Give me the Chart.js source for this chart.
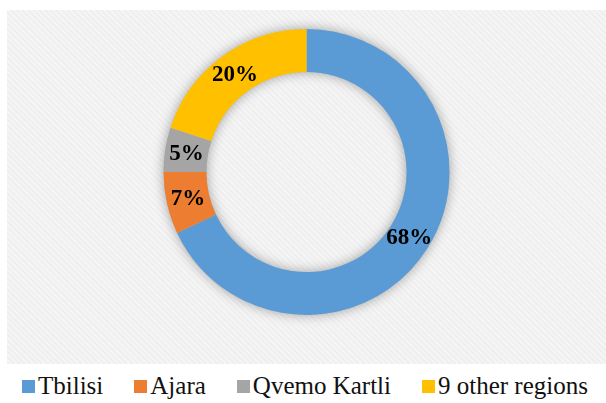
<!DOCTYPE html>
<html>
<head>
<meta charset="utf-8">
<script src="https://cdn.jsdelivr.net/npm/chart.js@4"></script>
<style>
  body { margin: 0; background: #fff; width: 606px; height: 403px; overflow: hidden; position: relative; }
  #panel {
    position: absolute; left: 7px; top: 10px; width: 599px; height: 354px;
    background: repeating-linear-gradient(45deg, #efefef 0px, #efefef 2px, #f5f5f5 2px, #f5f5f5 4px);
  }
  #legend {
    position: absolute; left: 22px; top: 366px; height: 39px; right: 0;
    display: flex; align-items: center; gap: 31px;
    font-family: "Liberation Serif", serif; font-size: 25px; color: #111;
  }
  #legend .item { display: flex; align-items: center; white-space: nowrap; }
  #legend .box { width: 13px; height: 13px; margin-right: 3px; margin-top: 2px; }
</style>
</head>
<body>
<div id="panel"><canvas id="c" width="599" height="354"></canvas></div>
<div id="legend"></div>
<script>
const regions = ["Tbilisi", "Ajara", "Qvemo Kartli", "9 other regions"]
const shares = [68, 7, 5, 20]
const colors = ["#5B9BD5", "#ED7D31", "#A5A5A5", "#FFC000"]

// soft shadow under the ring
const ringShadow = {
  id: 'ringShadow',
  beforeDatasetsDraw(chart) {
    const arc = chart.getDatasetMeta(0).data[0]
    if (!arc) return
    const { x, y, outerRadius, innerRadius } = arc.getProps(['x', 'y', 'outerRadius', 'innerRadius'], true)
    const ctx = chart.ctx
    ctx.save()
    ctx.shadowColor = 'rgba(0,0,0,0.35)'
    ctx.shadowBlur = 12
    ctx.fillStyle = '#bbb'
    ctx.beginPath()
    ctx.arc(x, y, outerRadius, 0, Math.PI * 2)
    ctx.arc(x, y, innerRadius, 0, Math.PI * 2, true)
    ctx.fill()
    ctx.restore()
  }
}

// percent labels in the middle of each slice
const sliceLabels = {
  id: 'sliceLabels',
  afterDatasetsDraw(chart) {
    const ctx = chart.ctx
    ctx.save()
    ctx.font = 'bold 23px "Liberation Serif", serif'
    ctx.fillStyle = '#000'
    ctx.textAlign = 'center'
    ctx.textBaseline = 'middle'
    chart.getDatasetMeta(0).data.forEach((el, i) => {
      const p = el.tooltipPosition()
      ctx.fillText(shares[i] + '%', p.x, p.y + 1)
    })
    ctx.restore()
  }
}

const chart = new Chart(document.getElementById('c'), {
  type: 'doughnut',
  data: {
    labels: regions,
    datasets: [{
      data: shares,
      backgroundColor: colors,
      borderWidth: 0
    }]
  },
  options: {
    responsive: false,
    animation: false,
    cutout: '70%',
    layout: { padding: { top: 19, bottom: 49, left: 0, right: 0 } },
    plugins: {
      legend: { display: false },
      tooltip: { enabled: false }
    }
  },
  plugins: [ringShadow, sliceLabels]
})

// html legend built from the chart's own legend items
const legendEl = document.getElementById('legend')
chart.options.plugins.legend.labels.generateLabels(chart).forEach(item => {
  const d = document.createElement('div')
  d.className = 'item'
  const b = document.createElement('span')
  b.className = 'box'
  b.style.background = item.fillStyle
  d.appendChild(b)
  d.appendChild(document.createTextNode(item.text))
  legendEl.appendChild(d)
})
</script>
</body>
</html>
